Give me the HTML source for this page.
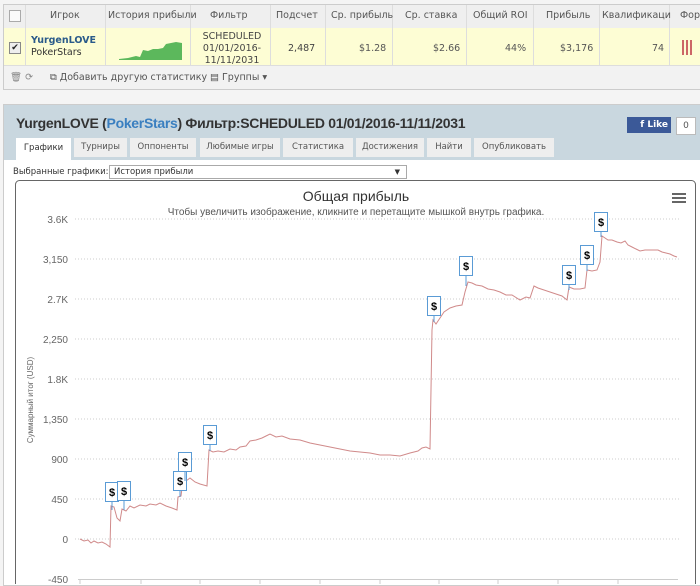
<!DOCTYPE html>
<html><head><meta charset="utf-8"><style>
body{margin:0;width:700px;height:584px;overflow:hidden;background:#f4f4f4;font-family:"DejaVu Sans","Liberation Sans",sans-serif;position:relative}
.abs{position:absolute}
</style></head><body>
<div class="abs" style="left:3px;top:4px;width:697px;height:84px;background:#fff;border:1px solid #ccc;border-right:none">
<div class="abs" style="left:0;top:0;width:697px;height:23px;background:#efefef;border-bottom:1px solid #ddd"></div>
<div class="abs" style="left:0;top:23px;width:697px;height:37px;background:#fdfdd4;border-bottom:1px solid #ddd"></div>
<div class="abs" style="left:0;top:61px;width:697px;height:23px;background:#f2f2f2"></div>
</div>
<div class="abs" style="left:0;top:5px;width:700px;font-size:9.5px;color:#555">
<div class="abs" style="left:25px;top:0;width:1px;height:60px;background:#ddd"></div>
<div class="abs" style="left:105px;top:0;width:1px;height:60px;background:#ddd"></div>
<div class="abs" style="left:190px;top:0;width:1px;height:60px;background:#ddd"></div>
<div class="abs" style="left:270px;top:0;width:1px;height:60px;background:#ddd"></div>
<div class="abs" style="left:325px;top:0;width:1px;height:60px;background:#ddd"></div>
<div class="abs" style="left:392px;top:0;width:1px;height:60px;background:#ddd"></div>
<div class="abs" style="left:466px;top:0;width:1px;height:60px;background:#ddd"></div>
<div class="abs" style="left:533px;top:0;width:1px;height:60px;background:#ddd"></div>
<div class="abs" style="left:599px;top:0;width:1px;height:60px;background:#ddd"></div>
<div class="abs" style="left:669px;top:0;width:1px;height:60px;background:#ddd"></div>
<div class="abs" style="left:9px;top:5px;width:10px;height:10px;border:1px solid #aaa;background:#fafafa"></div>
<div class="abs" style="left:50px;top:5px">Игрок</div>
<div class="abs" style="left:108px;top:5px">История прибыли</div>
<div class="abs" style="left:210px;top:5px">Фильтр</div>
<div class="abs" style="left:276px;top:5px">Подсчет</div>
<div class="abs" style="left:331px;top:5px">Ср. прибыль</div>
<div class="abs" style="left:405px;top:5px">Ср. ставка</div>
<div class="abs" style="left:473px;top:5px">Общий ROI</div>
<div class="abs" style="left:546px;top:5px">Прибыль</div>
<div class="abs" style="left:602px;top:5px">Квалификаци</div>
<div class="abs" style="left:680px;top:5px">Фор</div>
<div class="abs" style="left:9px;top:37px;width:10px;height:10px;border:1px solid #888;background:#eee;font-size:9px;line-height:10px;text-align:center;color:#222">✔</div>
<div class="abs" style="left:31px;top:30px;font-weight:bold;color:#2a5a8a">YurgenLOVE</div>
<div class="abs" style="left:31px;top:42px;color:#333">PokerStars</div>
<svg class="abs" style="left:118px;top:33px" width="66" height="22"><path d="M1,21 L10,20 L18,18 L22,19 L25,12 L30,13 L35,11 L40,11 L45,10 L48,6 L53,5 L58,4 L64,5 L64,22 L1,22Z" fill="#5cb85c"/></svg>
<div class="abs" style="left:197px;top:26px;width:70px;text-align:center;line-height:12px;color:#444">SCHEDULED<br>01/01/2016-<br>11/11/2031</div>
<div class="abs" style="left:288px;top:38px;color:#444">2,487</div>
<div class="abs" style="left:359px;top:38px">$1.28</div>
<div class="abs" style="left:433px;top:38px">$2.66</div>
<div class="abs" style="left:505px;top:38px">44%</div>
<div class="abs" style="left:560px;top:38px">$3,176</div>
<div class="abs" style="left:652px;top:38px">74</div>
<div class="abs" style="left:682px;top:35px;width:2px;height:15px;background:#c66"></div>
<div class="abs" style="left:686px;top:35px;width:2px;height:15px;background:#c66"></div>
<div class="abs" style="left:690px;top:35px;width:2px;height:15px;background:#c66"></div>
<div class="abs" style="left:10px;top:67px;color:#888">🗑 ⟳</div>
<div class="abs" style="left:50px;top:67px;color:#555">⧉ Добавить другую статистику</div>
<div class="abs" style="left:210px;top:67px;color:#555">▤ Группы ▾</div>
</div>
<div class="abs" style="left:3px;top:104px;width:697px;height:480px;background:#fff;border:1px solid #ccc"></div>
<div class="abs" style="left:4px;top:105px;width:696px;height:55px;background:#c9d7df"></div>
<div class="abs" style="left:16px;top:115px;font-family:'Liberation Sans',sans-serif;font-size:14px;font-weight:bold;color:#333;letter-spacing:-0.3px">YurgenLOVE (<span style="color:#3a7fc0">PokerStars</span>) Фильтр:SCHEDULED 01/01/2016-11/11/2031</div>
<div class="abs" style="left:627px;top:117px;width:44px;height:16px;background:#3b5998;color:#fff;font-size:9px;font-weight:bold;line-height:16px;text-align:right;padding-right:3px;box-sizing:border-box">f&nbsp;Like</div>
<div class="abs" style="left:676px;top:117px;width:18px;height:16px;background:#fff;border:1px solid #bbb;font-size:9px;line-height:16px;text-align:center;color:#555">0</div>
<div class="abs" style="left:0;top:138px;font-size:8.5px;color:#555">
<div class="abs" style="left:16px;top:0;width:55px;height:22px;background:#fff;text-align:center;line-height:20px;color:#333">Графики</div>
<div class="abs" style="left:74px;width:53px;height:19px;background:#eee;text-align:center;line-height:19px">Турниры</div>
<div class="abs" style="left:130px;width:66px;height:19px;background:#eee;text-align:center;line-height:19px">Оппоненты</div>
<div class="abs" style="left:200px;width:80px;height:19px;background:#eee;text-align:center;line-height:19px">Любимые игры</div>
<div class="abs" style="left:283px;width:70px;height:19px;background:#eee;text-align:center;line-height:19px">Статистика</div>
<div class="abs" style="left:356px;width:68px;height:19px;background:#eee;text-align:center;line-height:19px">Достижения</div>
<div class="abs" style="left:427px;width:44px;height:19px;background:#eee;text-align:center;line-height:19px">Найти</div>
<div class="abs" style="left:474px;width:80px;height:19px;background:#eee;text-align:center;line-height:19px">Опубликовать</div>
</div>
<div class="abs" style="left:13px;top:167px;font-size:8.5px;color:#333">Выбранные графики:</div>
<div class="abs" style="left:109px;top:165px;width:292px;height:12px;border:1px solid #aaa;background:#fff;font-size:8.5px;line-height:12px;padding-left:4px;box-sizing:content-box;color:#333">История прибыли<span style="position:absolute;right:6px;font-size:7px">▼</span></div>
<svg class="abs" style="left:0;top:0" width="700" height="584" font-family="Liberation Sans, sans-serif">
<rect x="15.5" y="180.5" width="680" height="420" rx="4" fill="#fff" stroke="#666"/>
<text x="356" y="201" text-anchor="middle" font-size="14" fill="#333">Общая прибыль</text>
<text x="356" y="215" text-anchor="middle" font-size="10" fill="#555">Чтобы увеличить изображение, кликните и перетащите мышкой внутрь графика.</text>
<g fill="#666"><rect x="672" y="193" width="14" height="2"/><rect x="672" y="197" width="14" height="2"/><rect x="672" y="201" width="14" height="2"/></g>
<g stroke="#ccc" stroke-dasharray="1,2">
<line x1="75" x2="680" y1="219" y2="219"/><line x1="75" x2="680" y1="259" y2="259"/><line x1="75" x2="680" y1="299" y2="299"/><line x1="75" x2="680" y1="339" y2="339"/><line x1="75" x2="680" y1="379" y2="379"/><line x1="75" x2="680" y1="419" y2="419"/><line x1="75" x2="680" y1="459" y2="459"/><line x1="75" x2="680" y1="499" y2="499"/><line x1="75" x2="680" y1="539" y2="539"/></g>
<g font-size="10" fill="#666" text-anchor="end">
<text x="68" y="223">3.6K</text><text x="68" y="263">3,150</text><text x="68" y="303">2.7K</text><text x="68" y="343">2,250</text><text x="68" y="383">1.8K</text><text x="68" y="423">1,350</text><text x="68" y="463">900</text><text x="68" y="503">450</text><text x="68" y="543">0</text><text x="68" y="583">-450</text></g>
<text transform="translate(33,400) rotate(-90)" text-anchor="middle" font-size="8" fill="#666">Суммарный итог (USD)</text>
<line x1="78" x2="678" y1="579.5" y2="579.5" stroke="#ccc"/>
<g stroke="#ccc"><line x1="80" x2="80" y1="579" y2="584"/><line x1="141" x2="141" y1="579" y2="584"/><line x1="200" x2="200" y1="579" y2="584"/><line x1="260" x2="260" y1="579" y2="584"/><line x1="320" x2="320" y1="579" y2="584"/><line x1="380" x2="380" y1="579" y2="584"/><line x1="439" x2="439" y1="579" y2="584"/><line x1="498" x2="498" y1="579" y2="584"/><line x1="558" x2="558" y1="579" y2="584"/><line x1="618" x2="618" y1="579" y2="584"/></g>
<polyline fill="none" stroke="#d08a8a" stroke-width="1" points="80,539 84,541 88,540 91,543 94,541 98,543 102,542 106,544 110,547 111,506 114,507 117,518 120,521 122,509 126,511 130,506 134,508 140,505 146,506 150,504 156,505 160,503 166,506 172,508 177,510 178,497 181,496 183,480 186,481 190,478 195,482 200,484 207,486 209,450 213,452 218,451 224,452 230,449 236,450 240,447 246,446 250,441 256,440 262,438 266,436 270,434 276,437 282,436 290,439 300,440 310,443 320,445 330,447 340,449 350,451 360,452 370,453 380,455 390,455 400,456 410,453 418,451 422,448 426,447 430,449 432,330 433,320 436,324 440,318 444,312 450,308 456,306 462,305 465,292 468,282 472,283 476,285 482,286 488,289 494,290 500,292 506,295 512,295 520,300 526,297 530,298 534,286 538,288 544,290 550,292 556,294 562,296 567,300 569,287 574,289 580,289 585,288 587,270 592,271 597,270 600,262 602,236 605,238 608,240 612,240 617,242 621,243 625,241 628,245 632,247 636,249 640,251 645,250 650,250 655,250 658,250 662,252 666,253 670,254 674,256 677,257"/>
<g stroke="#5a9bd5" fill="#fff" font-size="11" font-weight="bold" text-anchor="middle">
<g><line x1="112" y1="502" x2="112" y2="510"/><rect x="105.5" y="482.5" width="13" height="19"/><text x="112" y="496" fill="#000" stroke="none">$</text></g>
<g><line x1="124" y1="501" x2="124" y2="510"/><rect x="117.5" y="481.5" width="13" height="19"/><text x="124" y="495" fill="#000" stroke="none">$</text></g>
<g><line x1="180" y1="491" x2="180" y2="497"/><rect x="173.5" y="471.5" width="13" height="19"/><text x="180" y="485" fill="#000" stroke="none">$</text></g>
<g><line x1="185" y1="472" x2="185" y2="481"/><rect x="178.5" y="452.5" width="13" height="19"/><text x="185" y="466" fill="#000" stroke="none">$</text></g>
<g><line x1="210" y1="445" x2="210" y2="451"/><rect x="203.5" y="425.5" width="13" height="19"/><text x="210" y="439" fill="#000" stroke="none">$</text></g>
<g><line x1="434" y1="316" x2="434" y2="322"/><rect x="427.5" y="296.5" width="13" height="19"/><text x="434" y="310" fill="#000" stroke="none">$</text></g>
<g><line x1="466" y1="276" x2="466" y2="286"/><rect x="459.5" y="256.5" width="13" height="19"/><text x="466" y="270" fill="#000" stroke="none">$</text></g>
<g><line x1="569" y1="285" x2="569" y2="290"/><rect x="562.5" y="265.5" width="13" height="19"/><text x="569" y="279" fill="#000" stroke="none">$</text></g>
<g><line x1="587" y1="265" x2="587" y2="271"/><rect x="580.5" y="245.5" width="13" height="19"/><text x="587" y="259" fill="#000" stroke="none">$</text></g>
<g><line x1="601" y1="232" x2="601" y2="237"/><rect x="594.5" y="212.5" width="13" height="19"/><text x="601" y="226" fill="#000" stroke="none">$</text></g>
</g>
</svg>
</body></html>
